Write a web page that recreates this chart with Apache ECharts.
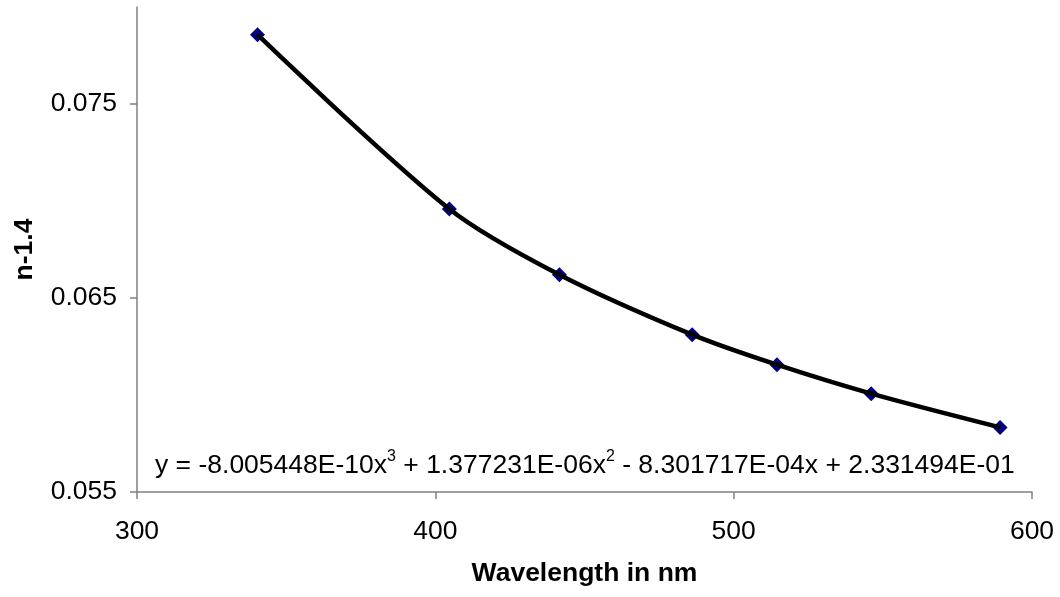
<!DOCTYPE html>
<html>
<head>
<meta charset="utf-8">
<script src="https://cdn.jsdelivr.net/npm/echarts@6/dist/echarts.min.js"></script>
<style>
  html, body { margin: 0; padding: 0; background: #fff; }
  #chart { width: 1060px; height: 597px; }
</style>
</head>
<body>
<div id="chart"></div>
<script>
var wavelengths = [340.4, 404.7, 441.6, 486.1, 514.5, 546.1, 589.3];
var nMinus = [0.07857, 0.06959, 0.06620, 0.06311, 0.06156, 0.06007, 0.05833];

var xTicks = [300, 400, 500, 600];
var yTicks = [0.055, 0.065, 0.075];

var eqParts = ['y = -8.005448E-10x', '3', ' + 1.377231E-06x', '2', ' - 8.301717E-04x + 2.331494E-01'];

var font = 'Liberation Sans, Arial, sans-serif';
var axisGray = '#808080';
var fs = 26.5;

var pts = wavelengths.map(function (w, i) { return [w, nMinus[i]]; });

var myChart = echarts.init(document.getElementById('chart'));

var option = {
    backgroundColor: '#fff',
    animation: false,
    grid: { left: 137, right: 28, top: 7, bottom: 105 },
    xAxis: {
        type: 'value',
        min: xTicks[0],
        max: xTicks[xTicks.length - 1],
        interval: 100,
        name: 'Wavelength in nm',
        nameLocation: 'middle',
        nameGap: 68,
        nameTextStyle: { fontFamily: font, fontSize: fs, fontWeight: 'bold', color: '#000' },
        axisLine: { lineStyle: { color: axisGray, width: 1.5 } },
        axisTick: { show: true, length: 7, lineStyle: { color: axisGray, width: 1.5 } },
        axisLabel: { fontFamily: font, fontSize: fs, color: '#000', margin: 26 },
        splitLine: { show: false }
    },
    yAxis: {
        type: 'value',
        min: 0.055,
        max: 0.08,
        name: 'n-1.4',
        nameLocation: 'middle',
        nameGap: 99,
        nameTextStyle: { fontFamily: font, fontSize: fs, fontWeight: 'bold', color: '#000' },
        axisLine: { show: true, lineStyle: { color: axisGray, width: 1.5 } },
        axisTick: { show: true, length: 7, customValues: yTicks, lineStyle: { color: axisGray, width: 1.5 } },
        axisLabel: {
            fontFamily: font, fontSize: fs, color: '#000', margin: 20,
            customValues: yTicks,
            formatter: function (v) { return v.toFixed(3); }
        },
        splitLine: { show: false }
    },
    graphic: [{
        type: 'text',
        left: 155,
        top: 449,
        z: 10,
        style: {
            text: '{a|' + eqParts[0] + '}{s|' + eqParts[1] + '}{a|' + eqParts[2] + '}{s|' + eqParts[3] + '}{a|' + eqParts[4] + '}',
            rich: {
                a: { fontFamily: font, fontSize: fs, lineHeight: 30, fill: '#000', verticalAlign: 'bottom' },
                s: { fontFamily: font, fontSize: 16, lineHeight: 16, fill: '#000', verticalAlign: 'top' }
            }
        }
    }],
    series: [
        {
            type: 'scatter',
            data: pts,
            symbol: 'diamond',
            symbolSize: 15,
            itemStyle: { color: '#000080', opacity: 1 },
            z: 2
        },
        {
            type: 'line',
            data: pts,
            smooth: 0.3,
            showSymbol: false,
            lineStyle: { color: '#000', width: 4.5 },
            z: 3
        }
    ]
};

myChart.setOption(option);
</script>
</body>
</html>
